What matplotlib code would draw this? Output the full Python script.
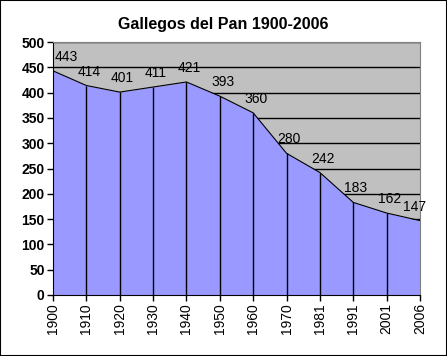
import matplotlib.pyplot as plt
from matplotlib.patches import Rectangle

# datos de población
years = ['1900', '1910', '1920', '1930', '1940', '1950', '1960',
         '1970', '1981', '1991', '2001', '2006']
population = [443, 414, 401, 411, 421, 393, 360, 280, 242, 183, 162, 147]

plt.rcParams['font.family'] = ['Liberation Sans', 'DejaVu Sans']

fig = plt.figure(figsize=(4.47, 3.56), dpi=100)
ax = fig.add_axes([53 / 447, 1 - 295 / 356, 367 / 447, 253 / 356])

x = list(range(len(years)))

ax.set_facecolor('#C0C0C0')
ax.set_xlim(0, len(years) - 1)
ax.set_ylim(0, 500)
ax.set_yticks(range(0, 501, 50))
ax.grid(axis='y', color='black', linewidth=1, zorder=0)
ax.set_axisbelow(True)

# área y líneas de caída
ax.fill_between(x, population, 0, color='#9999FF', linewidth=0, zorder=2)
ax.plot(x, population, color='black', linewidth=0.8, zorder=3)
ax.vlines(x[1:-1], 0, population[1:-1], color='black', linewidth=1, zorder=3)

# etiquetas de datos
for i, v in enumerate(population):
    ha = 'center'
    dx = 2
    if i == 0:
        ha = 'left'
        dx = 1
    elif i == len(population) - 1:
        dx = -4
    ax.annotate(str(v), (x[i], v), xytext=(dx, 5), textcoords='offset points',
                ha=ha, va='bottom', fontsize=10, zorder=4, annotation_clip=False)

ax.set_xticks(x)
ax.set_xticklabels(years, rotation=90, fontsize=10)
ax.tick_params(axis='x', length=4, width=1, pad=2)
ax.tick_params(axis='y', length=4, width=1, pad=2, labelsize=10)
for lbl in ax.get_yticklabels():
    lbl.set_fontweight('bold')

for side in ['top', 'right']:
    ax.spines[side].set_color('#808080')
for side in ['left', 'bottom']:
    ax.spines[side].set_color('black')

fig.text(0.5, 1 - 25 / 356, 'Gallegos del Pan 1900-2006', ha='center', va='center',
         fontsize=11.5, fontweight='bold')

# borde de la figura
fig.patches.append(Rectangle((0, 0), 1, 1, transform=fig.transFigure, fill=False,
                             edgecolor='black', linewidth=1.5))

fig.savefig('out.png', dpi=100)
